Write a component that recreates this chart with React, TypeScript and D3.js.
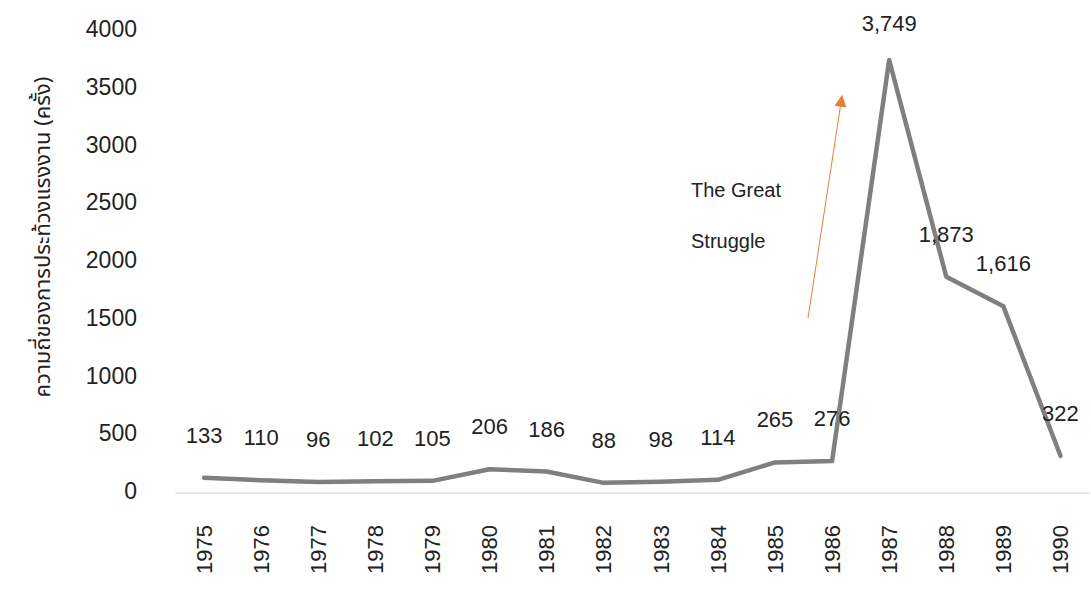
import React, { useRef, useEffect } from "react"
import * as d3 from "d3"

const years = ["1975", "1976", "1977", "1978", "1979", "1980", "1981", "1982", "1983", "1984", "1985", "1986", "1987", "1988", "1989", "1990"]
const strikes = [133, 110, 96, 102, 105, 206, 186, 88, 98, 114, 265, 276, 3749, 1873, 1616, 322]
const yTicks = [0, 500, 1000, 1500, 2000, 2500, 3000, 3500, 4000]
const yTitle = "ความถี่ของการประท้วงแรงงาน (ครั้ง)"
const noteLines = ["The Great", "Struggle"]

const width = 1091
const height = 589
const font = "'Liberation Sans', Arial, sans-serif"

const App: React.FC = () => {
  const svgRef = useRef<SVGSVGElement | null>(null)

  useEffect(() => {
    if (!svgRef.current) return
    const svg = d3.select(svgRef.current)
    svg.selectAll("*").remove()

    const x = d3.scaleBand().domain(years).range([175.5, 1089]).padding(0)
    const cx = (d: string) => (x(d) || 0) + x.bandwidth() / 2
    const y = d3.scaleLinear().domain([0, 4000]).range([493, 31])

    // y tick labels (no axis line, no gridlines)
    svg
      .append("g")
      .selectAll("text")
      .data(yTicks)
      .join("text")
      .attr("x", 137)
      .attr("y", (d) => y(d) - 2)
      .attr("dy", "0.35em")
      .attr("text-anchor", "end")
      .style("font-family", font)
      .style("font-size", "23px")
      .style("fill", "#222")
      .text((d) => d)

    // baseline
    svg
      .append("line")
      .attr("x1", x.range()[0])
      .attr("x2", x.range()[1])
      .attr("y1", y(0))
      .attr("y2", y(0))
      .attr("stroke", "#d9d9d9")
      .attr("stroke-width", 1.5)

    // rotated year labels
    svg
      .append("g")
      .selectAll("text")
      .data(years)
      .join("text")
      .attr("transform", (d) => `translate(${cx(d)},525) rotate(-90)`)
      .attr("dy", "0.35em")
      .attr("text-anchor", "end")
      .style("font-family", font)
      .style("font-size", "22px")
      .style("fill", "#222")
      .text((d) => d)

    // y axis title
    svg
      .append("text")
      .attr("transform", `translate(42,237) rotate(-90)`)
      .attr("text-anchor", "middle")
      .attr("dy", "0.35em")
      .style("font-family", "'Noto Sans Thai', 'Noto Sans', Tahoma, sans-serif")
      .style("font-size", "22px")
      .style("fill", "#222")
      .text(yTitle)

    // series line
    const line = d3
      .line<number>()
      .x((_, i) => cx(years[i]))
      .y((d) => y(d))

    svg
      .append("path")
      .datum(strikes)
      .attr("fill", "none")
      .attr("stroke", "#7f7f7f")
      .attr("stroke-width", 4.5)
      .attr("stroke-linejoin", "round")
      .attr("stroke-linecap", "round")
      .attr("d", line)

    // data labels
    svg
      .append("g")
      .selectAll("text")
      .data(strikes)
      .join("text")
      .attr("x", (_, i) => cx(years[i]))
      .attr("y", (d) => Math.max(y(d) - 35, 31))
      .attr("text-anchor", "middle")
      .style("font-family", font)
      .style("font-size", "22px")
      .style("fill", "#222")
      .text((d) => d3.format(",")(d))

    // annotation
    svg
      .append("g")
      .selectAll("text")
      .data(noteLines)
      .join("text")
      .attr("x", 691)
      .attr("y", (_, i) => 197 + i * 51)
      .style("font-family", font)
      .style("font-size", "20px")
      .style("fill", "#222")
      .text((d) => d)

    const defs = svg.append("defs")
    defs
      .append("marker")
      .attr("id", "arrowHead")
      .attr("viewBox", "0 0 10 10")
      .attr("refX", 9)
      .attr("refY", 5)
      .attr("markerWidth", 14)
      .attr("markerHeight", 12)
      .attr("markerUnits", "userSpaceOnUse")
      .attr("orient", "auto")
      .append("path")
      .attr("d", "M0,0 L10,5 L0,10 Z")
      .attr("fill", "#ed7d31")

    svg
      .append("line")
      .attr("x1", 808)
      .attr("y1", 318)
      .attr("x2", 842)
      .attr("y2", 96)
      .attr("stroke", "#ed7d31")
      .attr("stroke-width", 1)
      .attr("marker-end", "url(#arrowHead)")
  }, [])

  return (
    <svg
      ref={svgRef}
      width={width}
      height={height}
      style={{ position: "absolute", left: 0, top: 0, background: "#fff" }}
    ></svg>
  )
}

export default App
